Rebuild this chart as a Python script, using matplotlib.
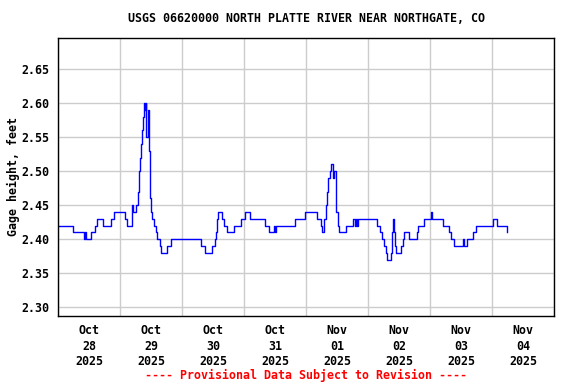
import pandas as pd
import matplotlib
matplotlib.use("Agg")
import matplotlib.pyplot as plt

# gage height readings (hours after 2025-10-28 00:00, feet), step changes only
hours = [0.0, 5.8, 10.1, 10.6, 11.0, 11.6, 12.8, 14.3, 15.1, 17.4, 20.5, 21.7,
         26.1, 26.7, 28.8, 29.2, 30.2, 30.8, 31.2, 31.5, 31.9, 32.3, 32.6, 33.0,
         33.4, 33.7, 33.9, 34.1, 34.8, 35.2, 35.6, 36.0, 36.4, 37.2, 37.9, 38.5,
         39.3, 39.9, 42.2, 43.7, 55.5, 56.9, 59.6, 60.6, 61.1, 61.5, 62.1, 63.5,
         64.3, 65.4, 68.1, 70.8, 72.4, 74.3, 80.1, 81.5, 83.6, 84.0, 84.4, 91.7,
         95.6, 100.2, 101.8, 102.2, 102.8, 103.7, 104.3, 104.7, 105.3, 105.7,
         106.5, 107.0, 107.8, 108.4, 108.8, 111.5, 114.2, 115.0, 115.4, 115.7,
         116.1, 123.5, 124.8, 125.4, 126.2, 126.8, 127.2, 128.9, 129.3, 129.7,
         130.1, 130.5, 131.0, 132.6, 133.4, 134.1, 135.9, 138.8, 139.5, 141.7,
         144.2, 144.6, 149.2, 151.5, 152.3, 153.1, 156.6, 157.0, 158.3, 160.8,
         161.8, 168.4, 169.9, 173.8]
gage = [2.42, 2.41, 2.40, 2.41, 2.40, 2.40, 2.41, 2.42, 2.43, 2.42, 2.43, 2.44,
        2.43, 2.42, 2.45, 2.44, 2.45, 2.47, 2.49, 2.50, 2.52, 2.54, 2.56, 2.58,
        2.60, 2.59, 2.60, 2.55, 2.59, 2.53, 2.46, 2.44, 2.43, 2.42, 2.41, 2.40,
        2.39, 2.38, 2.39, 2.40, 2.39, 2.38, 2.39, 2.40, 2.41, 2.43, 2.44, 2.43,
        2.42, 2.41, 2.42, 2.43, 2.44, 2.43, 2.42, 2.41, 2.42, 2.41, 2.42, 2.43,
        2.44, 2.43, 2.42, 2.41, 2.43, 2.45, 2.47, 2.49, 2.50, 2.51,
        2.49, 2.50, 2.44, 2.42, 2.41, 2.42, 2.43, 2.42, 2.43, 2.42,
        2.43, 2.42, 2.41, 2.40, 2.39, 2.38, 2.37, 2.38, 2.41, 2.43,
        2.41, 2.39, 2.38, 2.39, 2.40, 2.41, 2.40, 2.41, 2.42, 2.43,
        2.44, 2.43, 2.42, 2.41, 2.40, 2.39, 2.40, 2.39, 2.40, 2.41,
        2.42, 2.43, 2.42, 2.41]

start = pd.Timestamp("2025-10-28")
times = start + pd.to_timedelta(hours, unit="h")

y_ticks = [2.30, 2.35, 2.40, 2.45, 2.50, 2.55, 2.60, 2.65]
day_labels = ["Oct\n28\n2025", "Oct\n29\n2025", "Oct\n30\n2025", "Oct\n31\n2025",
              "Nov\n01\n2025", "Nov\n02\n2025", "Nov\n03\n2025", "Nov\n04\n2025"]

plt.rcParams["font.family"] = "DejaVu Sans Mono"
plt.rcParams["font.weight"] = "bold"
FS = 8.4

fig = plt.figure(figsize=(5.76, 3.84), dpi=100)
ax = fig.add_axes([58 / 576, 1 - 316 / 384, 496 / 576, 278 / 384])

ax.plot(times, gage, color="#0000ff", lw=1.0, drawstyle="steps-post")

# grid at midnight, date labels at noon
days = pd.date_range("2025-10-28", periods=9, freq="D")
noons = days[:-1] + pd.Timedelta(hours=12)
ax.set_xlim(days[0], days[-1])
ax.set_xticks(days)
ax.set_xticklabels([])
ax.set_xticks(noons, minor=True)
ax.set_xticklabels(day_labels, minor=True, fontsize=FS, fontweight="bold",
                   linespacing=1.25)
ax.tick_params(axis="x", which="both", length=0, pad=6)

ax.set_ylim(2.287, 2.696)
ax.set_yticks(y_ticks)
ax.set_yticklabels([f"{v:.2f}" for v in y_ticks], fontsize=FS, fontweight="bold")
ax.tick_params(axis="y", length=0, pad=6)

ax.grid(True, which="major", color="#cccccc", lw=1.0)
ax.set_axisbelow(True)
for s in ax.spines.values():
    s.set_linewidth(1.0)
    s.set_color("black")

ax.set_ylabel("Gage height, feet", fontsize=FS, fontweight="bold", labelpad=1)

fig.text(306 / 576, 1 - 19 / 384, "USGS 06620000 NORTH PLATTE RIVER NEAR NORTHGATE, CO",
         ha="center", va="center", fontsize=FS, fontweight="bold")
fig.text(306 / 576, 1 - 375 / 384, "---- Provisional Data Subject to Revision ----",
         ha="center", va="center", fontsize=FS, fontweight="bold", color="red")

fig.savefig("out.png", dpi=100)
